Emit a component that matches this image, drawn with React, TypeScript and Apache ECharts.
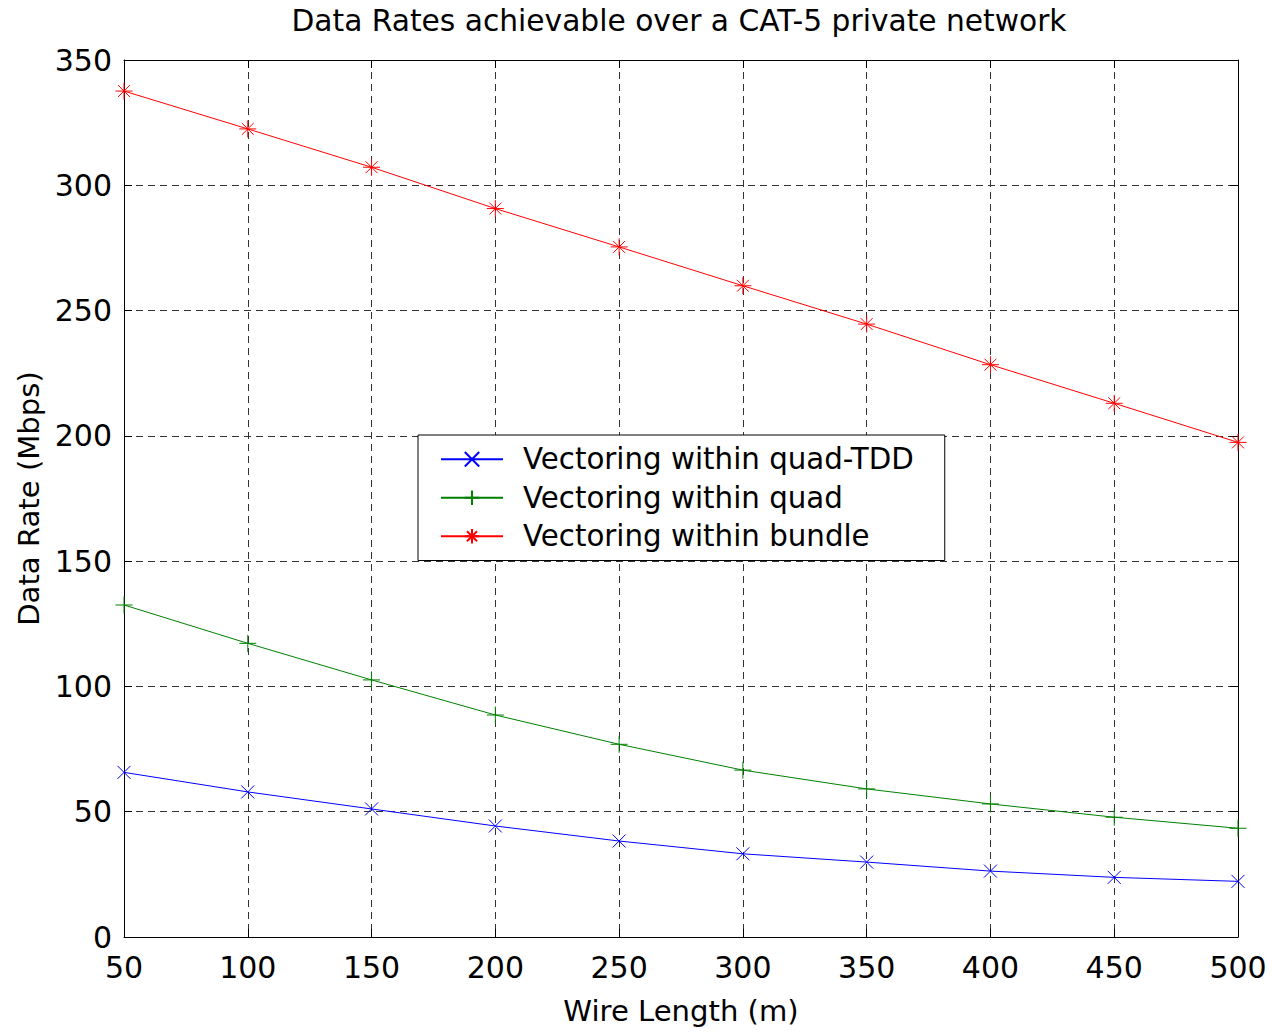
import React, { useEffect, useRef } from "react";
import * as echarts from "echarts";

const wireLengths = [50, 100, 150, 200, 250, 300, 350, 400, 450, 500];
const quadTDD = [65.7, 57.9, 51.1, 44.3, 38.3, 33.2, 29.9, 26.3, 23.8, 22.2];
const quad = [132.5, 117.2, 102.6, 88.6, 76.9, 66.6, 59.1, 53.1, 47.8, 43.4];
const bundle = [337.6, 322.5, 307.2, 290.7, 275.4, 259.9, 244.6, 228.4, 213.0, 197.4];
const seriesNames = [
  "Vectoring within quad-TDD",
  "Vectoring within quad",
  "Vectoring within bundle",
];
const yTicks = [0, 50, 100, 150, 200, 250, 300, 350];

const FONT = "'DejaVu Sans', 'Liberation Sans', Arial, sans-serif";
const X_SYM = "path://M0,0L10,10M10,0L0,10";
const PLUS_SYM = "path://M5,0L5,10M0,5L10,5";
const STAR_SYM = "path://M5,0L5,10M0,5L10,5M1.5,1.5L8.5,8.5M8.5,1.5L1.5,8.5";

function pairs(ys: number[]) {
  return wireLengths.map((x, i) => [x, ys[i]]);
}

function mkSeries(name: string, ys: number[], color: string, symbol: string, size: number) {
  return {
    name,
    type: "line",
    data: pairs(ys),
    symbol,
    symbolSize: size,
    showSymbol: true,
    lineStyle: { color, width: 1 },
    itemStyle: { color, borderColor: color, borderWidth: 1 },
    emphasis: { disabled: true },
    z: 3,
  };
}

export default function App() {
  const ref = useRef<HTMLDivElement>(null);
  useEffect(() => {
    document.body.style.margin = "0";
    if (!ref.current) return;
    const chart = echarts.init(ref.current, undefined, { renderer: "svg" });
    const gridLine = { show: true, lineStyle: { color: "#333", width: 1, type: [7, 5] } };
    chart.setOption({
      animation: false,
      backgroundColor: "#fff",
      title: {
        text: "Data Rates achievable over a CAT-5 private network",
        left: 679,
        top: 5,
        padding: 0,
        textAlign: "center",
        textStyle: { fontFamily: FONT, fontSize: 29.7, fontWeight: "normal", color: "#000" },
      },
      grid: { left: 124, right: 34, top: 60, bottom: 96, containLabel: false },
      legend: {
        left: 418,
        top: 435,
        orient: "vertical",
        padding: [6, 31, 6, 22],
        itemWidth: 62,
        itemHeight: 18,
        itemGap: 2,
        borderColor: "#000",
        borderWidth: 1,
        backgroundColor: "#fff",
        selectedMode: false,
        data: seriesNames,
        textStyle: {
          fontFamily: FONT,
          fontSize: 29.3,
          color: "#000",
          lineHeight: 36.5,
          padding: [0, 0, 0, 15],
        },
      },
      xAxis: [
        {
          type: "value",
          min: 50,
          max: 500,
          interval: 50,
          name: "Wire Length (m)",
          nameLocation: "middle",
          nameGap: 59,
          nameTextStyle: { fontFamily: FONT, fontSize: 29.1, color: "#000" },
          axisLine: { show: true, lineStyle: { color: "#000", width: 1 } },
          axisTick: { show: true, inside: true, length: 8, lineStyle: { color: "#000" } },
          axisLabel: { fontFamily: FONT, fontSize: 30, color: "#000", margin: 15 },
          splitLine: gridLine,
        },
        {
          type: "value",
          position: "top",
          min: 50,
          max: 500,
          interval: 50,
          axisLine: { show: true, onZero: false, lineStyle: { color: "#000", width: 1 } },
          axisTick: { show: true, inside: true, length: 8, lineStyle: { color: "#000" } },
          axisLabel: { show: false },
          splitLine: { show: false },
        },
      ],
      yAxis: [
        {
          type: "value",
          min: yTicks[0],
          max: yTicks[yTicks.length - 1],
          interval: 50,
          name: "Data Rate (Mbps)",
          nameLocation: "middle",
          nameGap: 81,
          nameTextStyle: { fontFamily: FONT, fontSize: 29.1, color: "#000" },
          axisLine: { show: true, lineStyle: { color: "#000", width: 1 } },
          axisTick: { show: true, inside: true, length: 8, lineStyle: { color: "#000" } },
          axisLabel: { fontFamily: FONT, fontSize: 30, color: "#000", margin: 12 },
          splitLine: gridLine,
        },
        {
          type: "value",
          position: "right",
          min: yTicks[0],
          max: yTicks[yTicks.length - 1],
          interval: 50,
          axisLine: { show: true, onZero: false, lineStyle: { color: "#000", width: 1 } },
          axisTick: { show: true, inside: true, length: 8, lineStyle: { color: "#000" } },
          axisLabel: { show: false },
          splitLine: { show: false },
        },
      ],
      series: [
        mkSeries(seriesNames[0], quadTDD, "#0000ff", X_SYM, 13),
        mkSeries(seriesNames[1], quad, "#008000", PLUS_SYM, 17),
        mkSeries(seriesNames[2], bundle, "#ff0000", STAR_SYM, 17),
      ],
    });
    return () => chart.dispose();
  }, []);
  return <div ref={ref} style={{ width: 1272, height: 1033 }} />;
}
